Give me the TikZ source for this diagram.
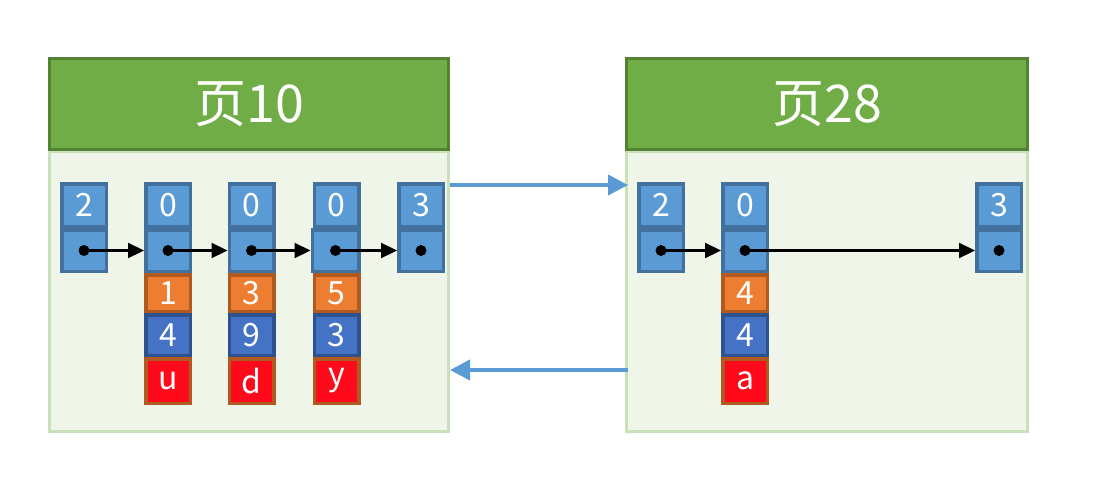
\documentclass[tikz,border=0pt]{standalone}
\usepackage{fontspec}
\newfontfamily\cjk{Noto Sans CJK SC}
\usetikzlibrary{arrows.meta}
\definecolor{cellblue}{HTML}{5B9BD5}
\definecolor{cellblueb}{HTML}{41719C}
\definecolor{cellorange}{HTML}{ED7D31}
\definecolor{cellorangeb}{HTML}{AE5A21}
\definecolor{celldblue}{HTML}{4472C4}
\definecolor{celldblueb}{HTML}{2F528F}
\definecolor{cellred}{HTML}{FF0A1A}
\definecolor{hdrfill}{HTML}{70AD47}
\definecolor{hdrb}{HTML}{548235}
\definecolor{bodyfill}{HTML}{F0F5EA}
\definecolor{bodyb}{HTML}{C9E0B8}
\definecolor{linkblue}{HTML}{5B9BD5}
\begin{document}
\begin{tikzpicture}[x=1pt,y=-1pt,
  cellbase/.style={draw,line width=3.5pt,inner sep=0pt,minimum width=44.5pt,text=white,font=\cjk\fontsize{32}{32}\selectfont},
  topcell/.style={cellbase,fill=cellblue,draw=cellblueb,minimum height=42.5pt},
  ptrcell/.style={cellbase,fill=cellblue,draw=cellblueb,minimum height=41.5pt},
  orcell/.style={cellbase,fill=cellorange,draw=cellorangeb,minimum height=36.5pt},
  dbcell/.style={cellbase,fill=celldblue,draw=celldblueb,minimum height=40.5pt},
  rdcell/.style={cellbase,fill=cellred,draw=cellorangeb,minimum height=44.5pt},
  body/.style={draw=bodyb,fill=bodyfill,line width=3pt,inner sep=0pt},
  header/.style={draw=hdrb,fill=hdrfill,line width=3pt,inner sep=0pt,text=white,font=\cjk\fontsize{52}{52}\selectfont},
  dotc/.style={circle,fill=black,inner sep=0pt,minimum size=11pt},
  link/.style={line width=2.2pt,-{Triangle[length=16pt,width=15pt]}},
  pagelink/.style={draw=linkblue,line width=4pt,-{Triangle[length=20pt,width=20pt]}}
]
\useasboundingbox (0,0) rectangle (1095,496);
% pages
\node[body,minimum width=399pt,minimum height=280pt] (Lbody) at (249,291.5) {};
\node[header,minimum width=399pt,minimum height=91pt] (Lhdr) at (249,104) {页10};
\node[body,minimum width=401pt,minimum height=280pt] (Rbody) at (827,291.5) {};
\node[header,minimum width=401pt,minimum height=91pt] (Rhdr) at (827,104) {页28};
% page links
\coordinate (t1) at (450,185);
\coordinate (t2) at (628,185);
\coordinate (b1) at (628,370);
\coordinate (b2) at (450,370);
\draw[pagelink] (t1) -- (t2);
\draw[pagelink] (b1) -- (b2);
% left page cells
\node[topcell] (La) at (84,205) {2};
\node[ptrcell] (Lap) at (84,250.5) {};
\node[topcell] (Lb) at (168,205) {0};
\node[ptrcell] (Lbp) at (168,250.5) {};
\node[orcell] (Lbo) at (168,293) {1};
\node[dbcell] (Lbd) at (168,335) {4};
\node[rdcell] (Lbr) at (168,381) {u};
\node[topcell] (Lc) at (251.5,205) {0};
\node[ptrcell] (Lcp) at (251.5,250.5) {};
\node[orcell] (Lco) at (251.5,293) {3};
\node[dbcell] (Lcd) at (251.5,335) {9};
\node[rdcell] (Lcr) at (251.5,381) {d};
\node[topcell] (Ld) at (336.5,205) {0};
\node[ptrcell,minimum width=46.5pt] (Ldp) at (335.5,250.5) {};
\node[orcell] (Ldo) at (336.5,293) {5};
\node[dbcell] (Ldd) at (336.5,335) {3};
\node[rdcell] (Ldr) at (336.5,381) {y};
\node[topcell] (Le) at (421,205) {3};
\node[ptrcell] (Lep) at (421,250.5) {};
% right page cells
\node[topcell] (Ra) at (661,205) {2};
\node[ptrcell] (Rap) at (661,250.5) {};
\node[topcell] (Rb) at (745,205) {0};
\node[ptrcell] (Rbp) at (745,250.5) {};
\node[orcell] (Rbo) at (745,293) {4};
\node[dbcell] (Rbd) at (745,335) {4};
\node[rdcell] (Rbr) at (745,381) {a};
\node[topcell] (Rc) at (999,205) {3};
\node[ptrcell] (Rcp) at (999,250.5) {};
% dots
\foreach \n in {Lap,Lbp,Lcp,Ldp,Lep,Rap,Rbp,Rcp}
  \node[dotc] (\n-dot) at (\n.center) {};
% links
\draw[link] (Lap-dot.center) -- (Lbp.west);
\draw[link] (Lbp-dot.center) -- (Lcp.west);
\draw[link] (Lcp-dot.center) -- (Ldp.west);
\draw[link] (Ldp-dot.center) -- (Lep.west);
\draw[link] (Rap-dot.center) -- (Rbp.west);
\draw[link] (Rbp-dot.center) -- (Rcp.west);
\end{tikzpicture}
\end{document}
